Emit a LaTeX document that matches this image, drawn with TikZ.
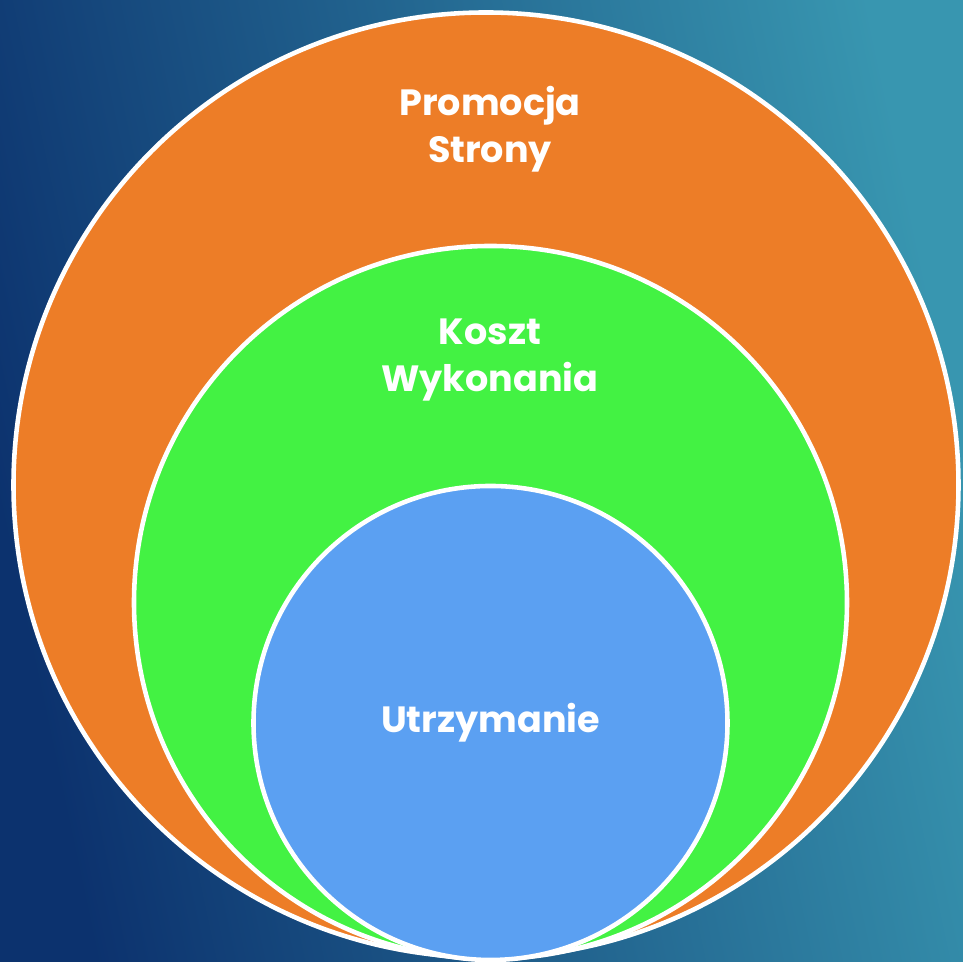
\documentclass[tikz,border=0pt]{standalone}
\usepackage{fontspec}
\setmainfont{Poppins}
\usetikzlibrary{positioning}

\definecolor{bgdark}{RGB}{12,50,110}
\definecolor{bglight}{RGB}{56,150,176}
\definecolor{promocjaorange}{RGB}{237,125,39}
\definecolor{kosztgreen}{RGB}{67,242,67}
\definecolor{utrzymblue}{RGB}{91,160,242}

\tikzset{
	ring/.style={circle, draw=white, line width=1.3pt, inner sep=0pt},
	label text/.style={text=white, font=\bfseries\fontsize{10.4}{13.4}\selectfont, align=center}
}

\begin{document}
\begin{tikzpicture}
	\shade[shading=axis, top color=bglight, bottom color=bgdark, shading angle=-78] (0,0) rectangle (9.63,9.62);
	\useasboundingbox (0,0) rectangle (9.63,9.62);
	
	\node[ring, fill=promocjaorange, minimum size=9.45cm] (promocja) at (4.86,4.77) {};
	\node[ring, fill=kosztgreen, minimum size=7.13cm] (koszt) at (4.905,3.595) {};
	\node[ring, fill=utrzymblue, minimum size=4.74cm] (utrzymanie) at (4.905,2.39) {};
	
	\node[label text] (promocjatxt) at (4.9,8.33) {Promocja\\Strony};
	\node[label text] (koszttxt) at (4.9,6.02) {Koszt\\Wykonania};
	\node[label text] (utrzymtxt) at (utrzymanie) {Utrzymanie};
\end{tikzpicture}
\end{document}
